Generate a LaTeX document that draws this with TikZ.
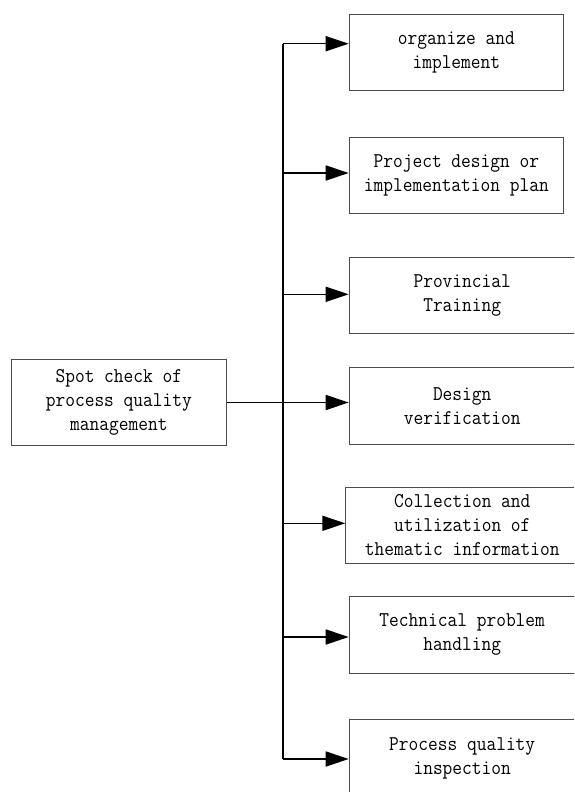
\documentclass[tikz,border=0pt]{standalone}
\usepackage{fontspec}
\setmonofont[FakeStretch=0.9]{Latin Modern Mono}
\usetikzlibrary{arrows.meta, positioning}

\begin{document}
\begin{tikzpicture}[x=1pt, y=-1pt, >={Triangle[length=23pt, width=15pt]}, line width=1.6pt]
    \tikzset{box/.style={draw=black!70, line width=1pt, align=center, inner sep=0pt, anchor=north west, font=\ttfamily\fontsize{21}{24}\selectfont}};
    \clip (0, 0) rectangle (574, 792);
    % Root
    \node[box, minimum width=214.7pt, minimum height=86pt] (spot) at (11, 359) {Spot check of\\process quality\\management};
    % Branches
    \node[box, minimum width=214.3pt, minimum height=75.7pt] (b1) at (348.7, 14.3) {organize and\\implement};
    \node[box, minimum width=214.3pt, minimum height=76.3pt] (b2) at (348.7, 137) {Project design or\\implementation plan};
    \node[box, minimum width=226pt, minimum height=76.3pt] (b3) at (348.7, 256.7) {Provincial\\Training};
    \node[box, minimum width=226pt, minimum height=76.7pt] (b4) at (348.7, 367.3) {Design\\verification};
    \node[box, minimum width=233pt, minimum height=76.6pt] (b5) at (345.3, 486.7) {Collection and\\utilization of\\thematic information};
    \node[box, minimum width=226pt, minimum height=76.7pt] (b6) at (348.7, 596) {Technical problem\\handling};
    \node[box, minimum width=226pt, minimum height=77pt] (b7) at (348.7, 719.3) {Process quality\\inspection};
    % Trunk
    \coordinate (top) at (283, 43.7);
    \coordinate (bottom) at (283, 759);
    \draw (top) -- (bottom);
    \draw[->] (spot.east) -- (spot.east -| b4.west);
    \foreach \i/\y in {1/43.7, 2/173, 3/294.3, 5/523.3, 6/637, 7/759}{
        \coordinate (t\i) at (283, \y);
        \draw[->] (t\i) -- (t\i -| b\i.west);
    }
\end{tikzpicture}
\end{document}
